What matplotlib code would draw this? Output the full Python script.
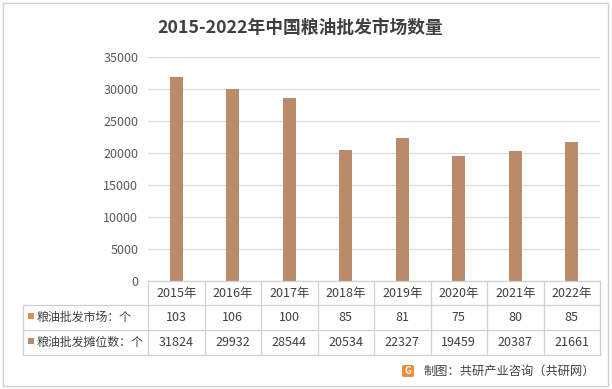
import matplotlib

matplotlib.use("Agg")
import matplotlib.pyplot as plt
import matplotlib.patches as mpatches
from matplotlib.lines import Line2D

plt.rcParams["font.family"] = ["Noto Sans CJK SC", "DejaVu Sans"]

years = ["2015年", "2016年", "2017年", "2018年", "2019年", "2020年", "2021年", "2022年"]
markets = [103, 106, 100, 85, 81, 75, 80, 85]
stalls = [31824, 29932, 28544, 20534, 22327, 19459, 20387, 21661]
row_labels = ["粮油批发市场：个", "粮油批发摊位数：个"]
yticks = [0, 5000, 10000, 15000, 20000, 25000, 30000, 35000]

W, H = 612, 389
BAR = "#B98B6A"
MARK = "#D99252"
GRID = "#D9D9D9"
TXT = "#404040"


def fx(px):
    return px / W


def fy(py):
    return 1 - py / H


fig = plt.figure(figsize=(W / 100, H / 100), dpi=100)

# outer frame
fig.patches.append(mpatches.Rectangle((fx(3), fy(386)), fx(605), 383 / H, transform=fig.transFigure,
                                      fill=False, edgecolor="#D0D0D0", lw=1))

left, right, top, bottom = 148, 600, 57, 281
ax = fig.add_axes([fx(left), fy(bottom), fx(right - left), (bottom - top) / H])
x = range(len(years))
ax.bar(x, stalls, width=0.23, color=BAR, zorder=3)
ax.set_xlim(-0.5, len(years) - 0.5)
ax.set_ylim(0, 35000)
ax.set_yticks(yticks)
ax.set_yticklabels([str(v) for v in yticks], fontsize=9, color="#595959")
ax.tick_params(axis="y", length=0, pad=7)
ax.set_xticks([])
ax.grid(axis="y", color=GRID, lw=0.9, zorder=0)
for s in ax.spines.values():
    s.set_visible(False)

fig.text(fx(300), fy(28), "2015-2022年中国粮油批发市场数量", ha="center", va="center",
         fontsize=12.8, fontweight="bold", color=TXT)

# data table under the axis
tl = 23
rows_y = [281, 305, 330, 355]
colw = (right - left) / len(years)
LC = "#D0D0D0"
for i, yy in enumerate(rows_y):
    x0 = left if i == 0 else tl
    fig.lines.append(Line2D([fx(x0), fx(right)], [fy(yy), fy(yy)], transform=fig.transFigure, color=LC, lw=0.9))
for k in range(len(years) + 1):
    xx = left + k * colw
    fig.lines.append(Line2D([fx(xx), fx(xx)], [fy(281), fy(355)], transform=fig.transFigure, color=LC, lw=0.9))
fig.lines.append(Line2D([fx(tl), fx(tl)], [fy(305), fy(355)], transform=fig.transFigure, color=LC, lw=0.9))

for k, yr in enumerate(years):
    cx = left + (k + 0.5) * colw
    fig.text(fx(cx), fy(293), yr, ha="center", va="center", fontsize=9, fontweight="medium", color=TXT)
    fig.text(fx(cx), fy(317.5), str(markets[k]), ha="center", va="center", fontsize=9, fontweight="medium", color=TXT)
    fig.text(fx(cx), fy(342.5), str(stalls[k]), ha="center", va="center", fontsize=9, fontweight="medium", color=TXT)

for lab, yy, c in zip(row_labels, [317.5, 342.5], [MARK, BAR]):
    fig.patches.append(mpatches.Rectangle((fx(28), fy(yy + 1)), fx(6), 6 / H, transform=fig.transFigure,
                                          facecolor=c, edgecolor="none"))
    fig.text(fx(37), fy(yy), lab, ha="left", va="center", fontsize=8.6, fontweight="medium", color=TXT)

# footer
fig.patches.append(mpatches.FancyBboxPatch((fx(402), fy(377)), fx(12), 12 / H, transform=fig.transFigure,
                                           boxstyle="round,pad=0,rounding_size=0.004",
                                           facecolor="#F28C3C", edgecolor="none"))
fig.text(fx(408), fy(371), "G", ha="center", va="center", fontsize=7, fontweight="bold", color="white")
fig.text(fx(595), fy(371), "制图：共研产业咨询（共研网）", ha="right", va="center", fontsize=8.8, color=TXT)

fig.savefig("out.png", dpi=100)
